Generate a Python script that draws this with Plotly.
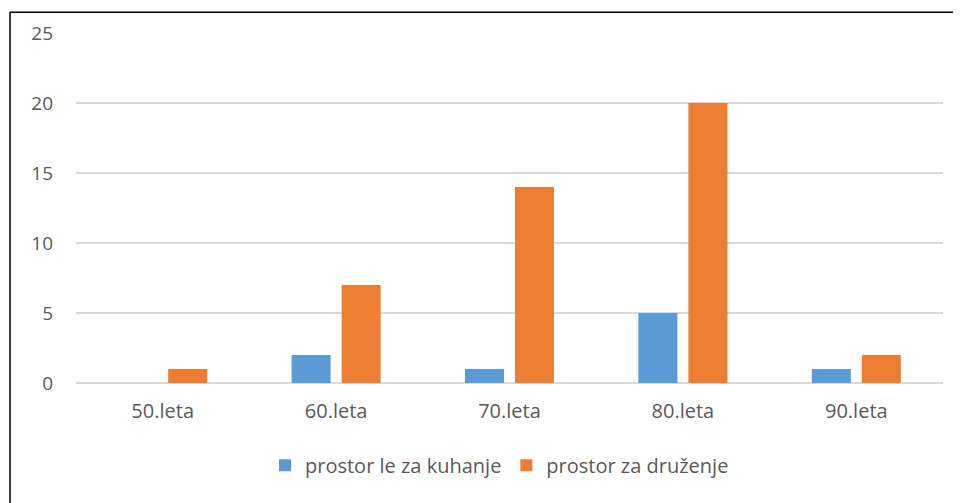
import plotly.graph_objects as go

categories = ["50.leta", "60.leta", "70.leta", "80.leta", "90.leta"]
kuhanje = [0, 2, 1, 5, 1]
druzenje = [1, 7, 14, 20, 2]
series_names = ["prostor le za kuhanje", "prostor za druženje"]
y_ticks = [0, 5, 10, 15, 20, 25]

# page body has an 8px margin; figure is placed at (8, 8)
OFF = 8
W, H = 961 - OFF, 503 - OFF
L, R, T, B = 76 - OFF, 18, 30 - OFF, 120
pw, ph = W - L - R, H - T - B

fig = go.Figure()
fig.add_trace(go.Bar(x=categories, y=kuhanje, name=series_names[0],
                     marker=dict(color="#5B9BD5", line=dict(width=0))))
fig.add_trace(go.Bar(x=categories, y=druzenje, name=series_names[1],
                     marker=dict(color="#ED7D31", line=dict(width=0))))

def px_x(p):
    return (p - OFF - L) / pw

def px_y(p):
    return (H - B - (p - OFF)) / ph

FS = 20
fig.update_layout(
    width=W, height=H,
    margin=dict(l=L, r=R, t=T, b=B),
    paper_bgcolor="white", plot_bgcolor="white",
    barmode="group", bargap=0.423, bargroupgap=0.22,
    font=dict(family="Open Sans, Lato, sans-serif", size=FS, color="#595959"),
    xaxis=dict(showgrid=False, showline=False, zeroline=False, ticks="",
               ticklabelstandoff=14, tickfont=dict(size=FS, color="#595959")),
    yaxis=dict(range=[0, 25], tickvals=y_ticks, showgrid=True, gridcolor="#D9D9D9",
               gridwidth=2, zeroline=True, zerolinecolor="#D9D9D9", zerolinewidth=2,
               showline=False, ticks="", ticklabelstandoff=22,
               tickfont=dict(size=19, color="#595959")),
    legend=dict(orientation="h", x=px_x(499.5), xanchor="center", y=px_y(466), yanchor="middle",
                font=dict(size=FS, color="#595959"), tracegroupgap=0),
    shapes=[dict(type="rect", xref="paper", yref="paper",
                 x0=px_x(10), x1=px_x(975), y0=px_y(515), y1=px_y(9),
                 line=dict(color="black", width=1.5), fillcolor="rgba(0,0,0,0)", layer="above")],
)

fig.write_html("out.html")
